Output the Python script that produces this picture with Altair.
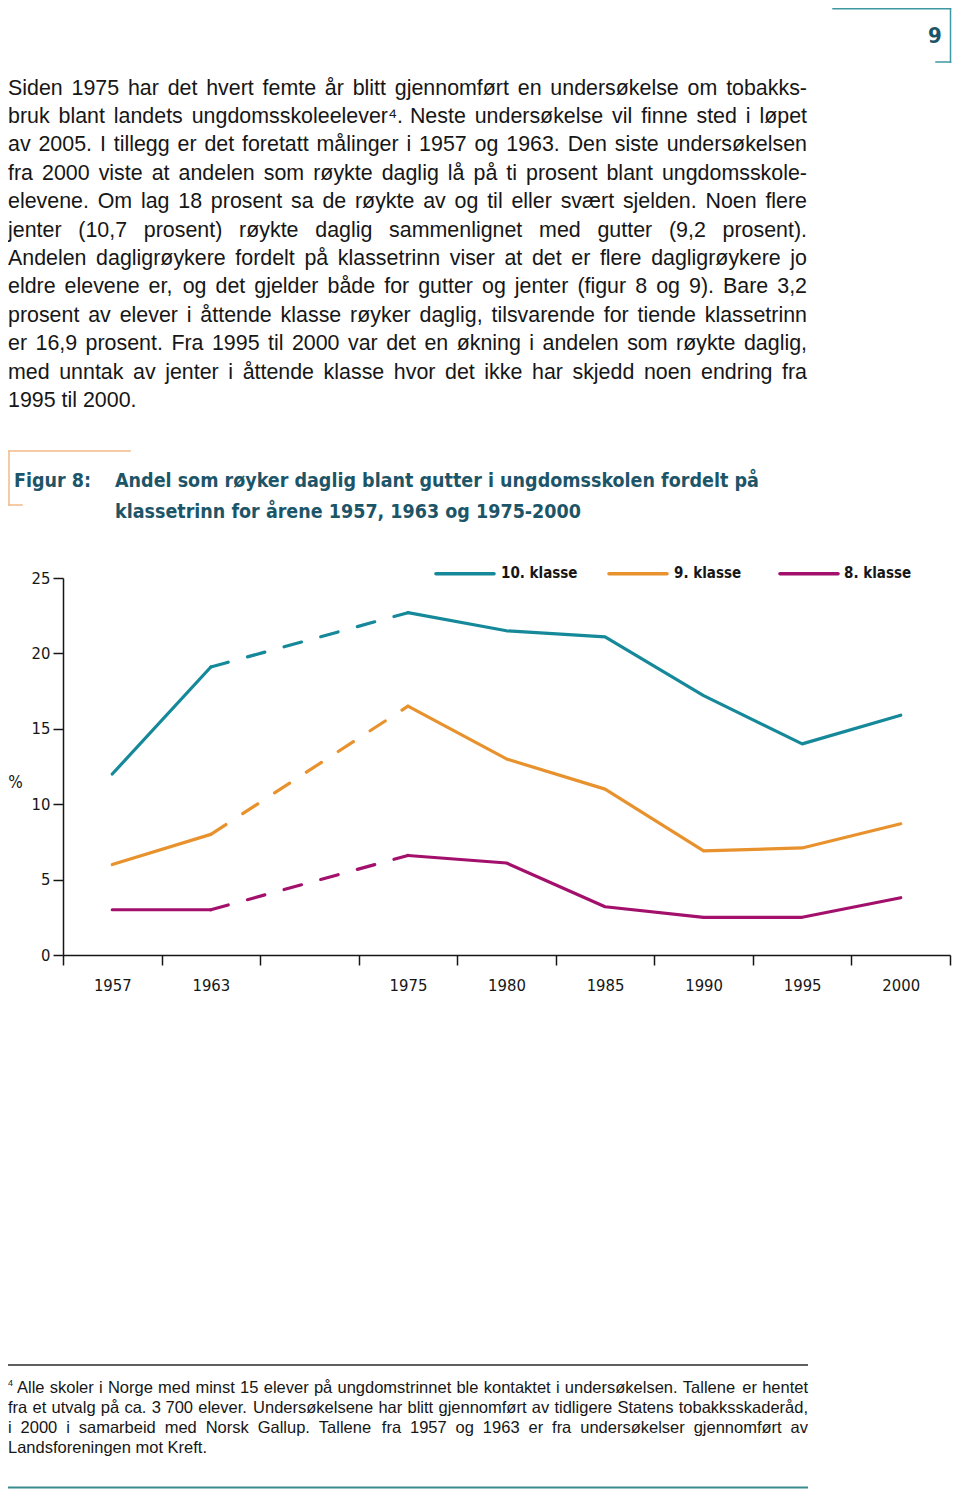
import altair as alt
import pandas as pd

# ---------------- data ----------------
years = ["1957", "1963", "1975", "1980", "1985", "1990", "1995", "2000"]
klasse10 = [12.0, 19.1, 22.7, 21.5, 21.1, 17.2, 14.0, 15.9]
klasse9 = [6.0, 8.0, 16.5, 13.0, 11.0, 6.9, 7.1, 8.7]
klasse8 = [3.0, 3.0, 6.6, 6.1, 3.2, 2.5, 2.5, 3.8]
series_names = ["10. klasse", "9. klasse", "8. klasse"]
series_colors = ["#15899a", "#e8922e", "#a3106c"]
x_domain = ["1957", "1963", " ", "1975", "1980", "1985", "1990", "1995", "2000"]
y_ticks = [0, 5, 10, 15, 20, 25]

paragraph_lines = [
    "Siden 1975 har det hvert femte år blitt gjennomført en undersøkelse om tobakks-",
    "bruk blant landets ungdomsskoleelever⁴. Neste undersøkelse vil finne sted i løpet",
    "av 2005. I tillegg er det foretatt målinger i 1957 og 1963. Den siste undersøkelsen",
    "fra 2000 viste at andelen som røykte daglig lå på ti prosent blant ungdomsskole-",
    "elevene. Om lag 18 prosent sa de røykte av og til eller svært sjelden. Noen flere",
    "jenter (10,7 prosent) røykte daglig sammenlignet med gutter (9,2 prosent).",
    "Andelen dagligrøykere fordelt på klassetrinn viser at det er flere dagligrøykere jo",
    "eldre elevene er, og det gjelder både for gutter og jenter (figur 8 og 9). Bare 3,2",
    "prosent av elever i åttende klasse røyker daglig, tilsvarende for tiende klassetrinn",
    "er 16,9 prosent. Fra 1995 til 2000 var det en økning i andelen som røykte daglig,",
    "med unntak av jenter i åttende klasse hvor det ikke har skjedd noen endring fra",
    "1995 til 2000.",
]
footnote_lines = [
    "Alle skoler i Norge med minst 15 elever på ungdomstrinnet ble kontaktet i undersøkelsen. Tallene er hentet",
    "fra et utvalg på ca. 3\u00a0700 elever. Undersøkelsene har blitt gjennomført av tidligere Statens tobakksskaderåd,",
    "i 2000 i samarbeid med Norsk Gallup. Tallene fra 1957 og 1963 er fra undersøkelser gjennomført av",
    "Landsforeningen mot Kreft.",
]
title_line1 = "Andel som røyker daglig blant gutter i ungdomsskolen fordelt på"
title_line2 = "klassetrinn for årene 1957, 1963 og 1975-2000"
figure_label = "Figur 8:"
page_number = "9"

# ---------------- styling ----------------
SANS = "Liberation Sans, Arial, Helvetica, sans-serif"
NARROW = "'DejaVu Sans Condensed', 'DejaVu Sans', sans-serif"
DARK_TEAL = "#1d5568"
INK = "#161616"
OX, OY = 63, 578          # plot origin on page
PW, PH = 887, 377         # plot size
SVG_W, SVG_H = 944, 1481

# Arial / Liberation Sans advance widths (1/1000 em) for justification
W = {' ': 278, '\u00a0': 278, ',': 278, '-': 333, '.': 278, '(': 333, ')': 333, ':': 278,
     ';': 278, '%': 889, '⁴': 333, 'å': 556, 'ø': 611, 'æ': 889, 'Å': 667, 'Ø': 778, 'Æ': 1000}
for c in "0123456789":
    W[c] = 556
W.update(dict(zip("ABCDEFGHIJKLMNOPQRSTUVWXYZ",
                  [667, 667, 722, 722, 667, 611, 778, 722, 278, 500, 667, 556, 833, 722, 778,
                   667, 778, 722, 667, 611, 722, 667, 944, 667, 667, 611])))
W.update(dict(zip("abcdefghijklmnopqrstuvwxyz",
                  [556, 556, 500, 556, 556, 278, 556, 556, 222, 222, 500, 222, 833, 556, 556,
                   556, 556, 333, 500, 278, 556, 500, 722, 500, 500, 500])))


def tw(s, fs):
    return sum(W.get(c, 556) for c in s) * fs / 1000.0


def justified(lines, fs, x0, x1, base, step, first_x0=None):
    rows = []
    for li, line in enumerate(lines):
        ws = line.split(" ")
        start = first_x0 if (li == 0 and first_x0 is not None) else x0
        widths = [tw(w, fs) for w in ws]
        if li == len(lines) - 1 or len(ws) == 1:
            gap = tw(" ", fs)
        else:
            gap = (x1 - start - sum(widths)) / (len(ws) - 1)
        x = start
        for w, wd in zip(ws, widths):
            rows.append(dict(x=x - OX, y=base + li * step - OY, t=w))
            x += wd + gap
    return pd.DataFrame(rows)


# ---------------- line data ----------------
rows = []
for name, vals in zip(series_names, [klasse10, klasse9, klasse8]):
    for seg, idx, dashed in [("a", [0, 1], False), ("b", [1, 2], True), ("c", list(range(2, 8)), False)]:
        for i in idx:
            rows.append(dict(klasse=name, year=years[i], value=vals[i], grp=name + seg,
                             dashed=dashed, order=i))
df = pd.DataFrame(rows)

x_enc = alt.X("year:N", sort=x_domain,
              scale=alt.Scale(type="band", domain=x_domain, paddingInner=0, paddingOuter=0),
              axis=alt.Axis(title=None, tickBand="extent", tickSize=10, tickWidth=1.5,
                            tickColor=INK, domainColor=INK, domainWidth=1.5,
                            labelFont=NARROW, labelFontSize=16.5, labelColor=INK,
                            labelPadding=12, labelAngle=0, grid=False))
y_enc = alt.Y("value:Q", scale=alt.Scale(domain=[0, 25], nice=False, zero=True),
              axis=alt.Axis(values=y_ticks, title="%", titleAngle=0, titleX=-48, titleY=204,
                            titleAlign="center", titleBaseline="middle", titleFont=NARROW,
                            titleFontSize=17, titleFontWeight="normal", titleColor=INK,
                            tickSize=10, tickWidth=1.5, tickColor=INK, domainColor=INK,
                            domainWidth=1.5, labelFont=NARROW, labelFontSize=16.5,
                            labelColor=INK, labelPadding=3, grid=False))
c_enc = alt.Color("klasse:N", scale=alt.Scale(domain=series_names, range=series_colors), legend=None)

solid = alt.Chart(df[~df.dashed]).mark_line(strokeWidth=3.2, strokeCap="round", strokeJoin="round").encode(
    x=x_enc, y=y_enc, color=c_enc, detail="grp:N", order="order:Q")
dashed = alt.Chart(df[df.dashed]).mark_line(strokeWidth=3.2, strokeCap="round", strokeDash=[18, 20]).encode(
    x=x_enc, y=y_enc, color=c_enc, detail="grp:N", order="order:Q")


def text_layer(d, **kw):
    return alt.Chart(d).mark_text(**kw).encode(
        x=alt.X("x:Q", scale=None, axis=None),
        y=alt.Y("y:Q", scale=None, axis=None),
        text="t:N")


def px(x, y, t):
    return dict(x=x - OX, y=y - OY, t=t)


para = text_layer(justified(paragraph_lines, 21.4, 8, 807, 94.5, 28.4),
                  align="left", baseline="alphabetic", font=SANS, fontSize=21.4, color=INK)
foot = text_layer(justified(footnote_lines, 16.5, 8, 808, 1392.5, 20, first_x0=17),
                  align="left", baseline="alphabetic", font=SANS, fontSize=16.5, color=INK)
foot_sup = text_layer(pd.DataFrame([px(8, 1386, "4")]),
                      align="left", baseline="alphabetic", font=SANS, fontSize=9, color=INK)
titles = text_layer(pd.DataFrame([px(14, 487, figure_label), px(115, 487, title_line1),
                                  px(115, 518, title_line2)]),
                    align="left", baseline="alphabetic", font=NARROW, fontSize=19.5,
                    fontWeight="bold", color=DARK_TEAL)
pnum = text_layer(pd.DataFrame([px(935, 36, page_number)]), align="center", baseline="middle",
                  font=NARROW, fontSize=22, fontWeight="bold", color=DARK_TEAL)
leg_x = [(436, 494, 501), (609, 667, 674), (780, 838, 844)]
legend_text = text_layer(pd.DataFrame([px(lx, 573, n) for (a, b, lx), n in zip(leg_x, series_names)]),
                         align="left", baseline="middle", font=NARROW, fontSize=15,
                         fontWeight="bold", color=INK)


def rules(segs, color, width, cap="butt"):
    d = pd.DataFrame([dict(x=a - OX, x2=c - OX, y=b - OY, y2=e - OY) for a, b, c, e in segs])
    return alt.Chart(d).mark_rule(color=color, strokeWidth=width, strokeCap=cap).encode(
        x=alt.X("x:Q", scale=None, axis=None), x2="x2:Q",
        y=alt.Y("y:Q", scale=None, axis=None), y2="y2:Q")


r_sep = rules([(8, 1365, 808, 1365)], "#2a2a2a", 1.6)
r_bot = rules([(8, 1487.5, 808, 1487.5)], "#3a8c8f", 2)
r_tframe = rules([(9, 451, 130, 451), (9, 451, 9, 505), (9, 505, 22, 505)], "#f2b98a", 1.5, "square")
r_pframe = rules([(833, 8.8, 950.5, 8.8), (950.5, 8.8, 950.5, 62), (936, 62, 950.5, 62)],
                 "#3d98a2", 1.5, "square")
r_leg = [rules([(a, 573.7, b, 573.7)], col, 3.6, "round") for (a, b, lx), col in zip(leg_x, series_colors)]

chart = alt.layer(solid, dashed, para, foot, foot_sup, titles, pnum, legend_text,
                  r_sep, r_bot, r_tframe, r_pframe, *r_leg).properties(
    width=PW, height=PH,
    autosize=alt.AutoSizeParams(type="none"),
    padding={"left": OX - 8, "top": OY - 8, "right": SVG_W - (OX - 8) - PW,
             "bottom": SVG_H - (OY - 8) - PH},
).configure_view(stroke=None)

chart.save("out.html", embed_options={"renderer": "svg", "actions": False})
